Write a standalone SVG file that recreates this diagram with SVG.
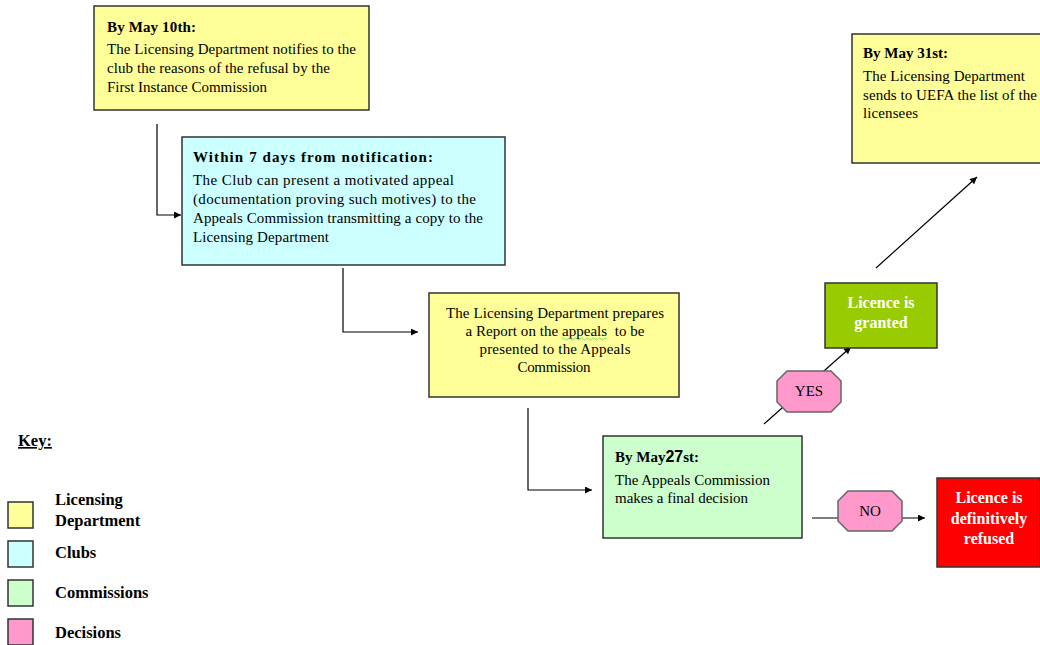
<svg xmlns="http://www.w3.org/2000/svg" width="1040" height="645" viewBox="0 0 1040 645">
<style>
text{font-family:"Liberation Serif","Times New Roman",serif;font-size:15px;fill:#000}
.b{font-weight:bold}
.w{fill:#fff;font-weight:bold;font-size:16px}
.k{font-weight:bold;font-size:16.5px}
.box{stroke:#333;stroke-width:1.5}
.oct{fill:#FF99CC;stroke:#666;stroke-width:1.5}
.conn{fill:none;stroke:#000;stroke-width:1.2}
.yel{fill:#FFFF99}.cy{fill:#CCFFFF}.lg{fill:#CCFFCC}.pk{fill:#FF99CC}
</style>
<defs>
<marker id="ah" viewBox="0 0 10 10" refX="10" refY="5" markerWidth="8" markerHeight="7" markerUnits="userSpaceOnUse" orient="auto">
<path d="M0,0 L10,5 L0,10 z" fill="#000"/>
</marker>
</defs>
<rect width="1040" height="645" fill="#fff"/>

<g id="connectors">
<polyline class="conn" points="157,124 157,215 181,215" marker-end="url(#ah)"/>
<polyline class="conn" points="343,268 343,332 418,332" marker-end="url(#ah)"/>
<polyline class="conn" points="528,408 528,490 592,490" marker-end="url(#ah)"/>
<line class="conn" x1="764" y1="424" x2="851" y2="347" marker-end="url(#ah)"/>
<line class="conn" x1="876" y1="268" x2="977" y2="177" marker-end="url(#ah)"/>
<line class="conn" x1="812" y1="518" x2="925" y2="518" marker-end="url(#ah)"/>
</g>

<g id="node-may10">
<rect class="box yel" x="94" y="6" width="275" height="104"/>
<text class="b" x="107" y="32" textLength="89">By May 10th:</text>
<text x="107" y="54" textLength="249">The Licensing Department notifies to the</text>
<text x="107" y="73" textLength="223">club the reasons of the refusal by the</text>
<text x="107" y="92" textLength="160">First Instance Commission</text>
</g>

<g id="node-within7">
<rect class="box cy" x="182" y="137" width="323" height="128"/>
<text class="b" x="193" y="162" font-size="16.5" textLength="240">Within 7 days from notification:</text>
<text x="193" y="185" textLength="261">The Club can present a motivated appeal</text>
<text x="193" y="204" textLength="283">(documentation proving such motives) to the</text>
<text x="193" y="223" textLength="290">Appeals Commission transmitting a copy to the</text>
<text x="193" y="242" textLength="136">Licensing Department</text>
</g>

<g id="node-report">
<rect class="box yel" x="429" y="293" width="250" height="104"/>
<g text-anchor="middle">
<text x="555" y="318" textLength="218">The Licensing Department prepares</text>
<text x="555" y="336" xml:space="preserve" textLength="179">a Report on the appeals  to be</text>
<text x="555" y="354" textLength="151">presented to the Appeals</text>
<text x="554" y="372" textLength="73">Commission</text>
</g>
<path d="M562,339 q1.5,-2 3,0 t3,0 t3,0 t3,0 t3,0 t3,0 t3,0 t3,0 t3,0 t3,0 t3,0 t3,0 t3,0 t3,0 t3,0" fill="none" stroke="#6c6" stroke-width="0.8"/>
</g>

<g id="node-may27">
<rect class="box lg" x="603" y="436" width="199" height="102"/>
<text class="b" x="615" y="462">By May<tspan font-family="Liberation Sans,Arial,sans-serif" font-size="16">27</tspan>st:</text>
<text x="615" y="485" textLength="155">The Appeals Commission</text>
<text x="615" y="503" textLength="133">makes a final decision</text>
</g>

<g id="node-yes">
<polygon class="oct" points="787,371 831,371 841,381 841,402 831,412 787,412 777,402 777,381"/>
<text x="809" y="396" text-anchor="middle">YES</text>
</g>

<g id="node-no">
<polygon class="oct" points="848,491 892,491 902,501 902,521 892,531 848,531 838,521 838,501"/>
<text x="870" y="516" text-anchor="middle">NO</text>
</g>

<g id="node-granted">
<rect class="box" fill="#99CC00" x="825" y="283" width="112" height="65"/>
<g text-anchor="middle">
<text class="w" x="881" y="308">Licence is</text>
<text class="w" x="881" y="328">granted</text>
</g>
</g>

<g id="node-refused">
<rect class="box" fill="#FF0000" x="937" y="478" width="103" height="89"/>
<g text-anchor="middle">
<text class="w" x="989" y="503">Licence is</text>
<text class="w" x="989" y="524">definitively</text>
<text class="w" x="989" y="544">refused</text>
</g>
</g>

<g id="node-may31">
<rect class="box yel" x="852" y="34" width="195" height="129"/>
<text class="b" x="863" y="58" textLength="85">By May 31st:</text>
<text x="863" y="81" textLength="162">The Licensing Department</text>
<text x="863" y="100" textLength="174">sends to UEFA the list of the</text>
<text x="863" y="118" textLength="55">licensees</text>
</g>

<g id="key">
<text class="k" x="18" y="446" text-decoration="underline">Key:</text>
<rect class="box yel" x="8" y="502" width="25" height="26"/>
<rect class="box cy" x="8" y="541" width="25" height="26"/>
<rect class="box lg" x="8" y="580" width="25" height="26"/>
<rect class="box pk" x="8" y="619" width="25" height="26"/>
<text class="k" x="55" y="505">Licensing</text>
<text class="k" x="55" y="526">Department</text>
<text class="k" x="55" y="558">Clubs</text>
<text class="k" x="55" y="598">Commissions</text>
<text class="k" x="55" y="638">Decisions</text>
</g>
</svg>
